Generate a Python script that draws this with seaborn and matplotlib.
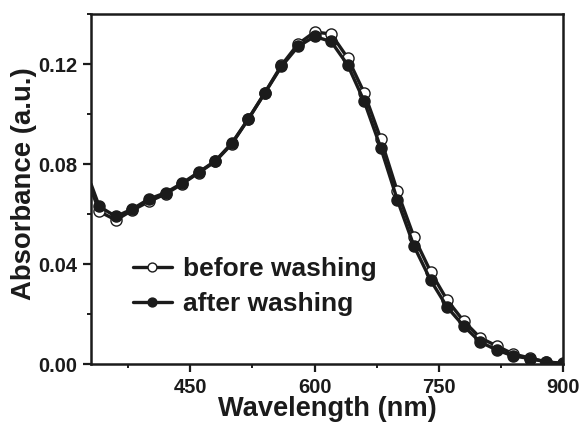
import matplotlib
matplotlib.use("Agg")
import matplotlib.pyplot as plt
import seaborn as sns
import pandas as pd
from matplotlib.ticker import MultipleLocator

# wavelength grid (nm) and absorbance
wavelength = [330, 340, 360, 380, 400, 420, 440, 460, 480, 500, 520, 540, 560, 580, 600,
              620, 640, 660, 680, 700, 720, 740, 760, 780, 800, 820, 840, 860, 880, 900]
before_washing = [0.070, 0.061, 0.0576, 0.0615, 0.065, 0.068, 0.072, 0.0765, 0.081, 0.088,
                  0.098, 0.1085, 0.1195, 0.128, 0.1328, 0.132, 0.1224, 0.1084, 0.090, 0.069,
                  0.0508, 0.037, 0.0256, 0.0172, 0.0105, 0.0072, 0.004, 0.0024, 0.0008, 0.0003]
after_washing = [0.072, 0.063, 0.059, 0.062, 0.066, 0.0685, 0.0723, 0.0767, 0.0812, 0.0883,
                 0.098, 0.1085, 0.119, 0.127, 0.131, 0.129, 0.1196, 0.105, 0.0864, 0.0656,
                 0.0472, 0.0336, 0.0228, 0.0152, 0.0088, 0.0056, 0.0032, 0.0022, 0.0008, 0.0002]

df = pd.DataFrame({"Wavelength": wavelength,
                   "before washing": before_washing,
                   "after washing": after_washing})

sns.set_theme(style="ticks")
plt.rcParams['font.family'] = ['Liberation Sans', 'DejaVu Sans']
plt.rcParams['font.weight'] = 'bold'

fig = plt.figure(figsize=(5.82, 4.23), dpi=100)
ax = fig.add_axes([91/582, 1-364/423, (563-91)/582, (364-14)/423])

ink = "#1b1b1b"
marks = list(range(1, len(wavelength)))
sns.lineplot(data=df, x="Wavelength", y="before washing", ax=ax, color=ink, linewidth=2.4,
             marker="o", markersize=8, markerfacecolor="white", markeredgecolor=ink,
             markeredgewidth=1.0, markevery=marks, label="before washing")
sns.lineplot(data=df, x="Wavelength", y="after washing", ax=ax, color=ink, linewidth=2.4,
             marker="o", markersize=8, markerfacecolor=ink, markeredgecolor=ink,
             markeredgewidth=1.0, markevery=marks, label="after washing")

ax.set_xlim(330, 900)
ax.set_ylim(0, 0.14)
ax.set_xticks([450, 600, 750, 900])
ax.xaxis.set_minor_locator(MultipleLocator(75))
ax.yaxis.set_major_locator(MultipleLocator(0.04))
ax.yaxis.set_minor_locator(MultipleLocator(0.02))
ax.yaxis.set_major_formatter(matplotlib.ticker.FormatStrFormatter('%.2f'))

for s in ax.spines.values():
    s.set_linewidth(1.8)
    s.set_color(ink)
ax.tick_params(which="major", direction="out", length=6, width=1.6, labelsize=14.5,
               colors=ink, pad=4)
ax.tick_params(which="minor", direction="out", length=3, width=1.4, colors=ink)
for lab in ax.get_xticklabels() + ax.get_yticklabels():
    lab.set_fontweight("bold")

ax.set_xlabel("Wavelength (nm)", fontsize=19.6, fontweight="bold", color=ink, labelpad=-1)
ax.set_ylabel("Absorbance (a.u.)", fontsize=19.8, fontweight="bold", color=ink)
ax.yaxis.set_label_coords(-0.115, 0.514)

leg = ax.legend(loc="center left", bbox_to_anchor=(0.088, 0.221), frameon=False,
                fontsize=19, handlelength=1.5, handletextpad=0.4, labelspacing=0.42,
                borderpad=0, borderaxespad=0, markerscale=0.8)
for t in leg.get_texts():
    t.set_fontweight("bold")
    t.set_color(ink)

fig.savefig("out.png", dpi=100, facecolor="white")
